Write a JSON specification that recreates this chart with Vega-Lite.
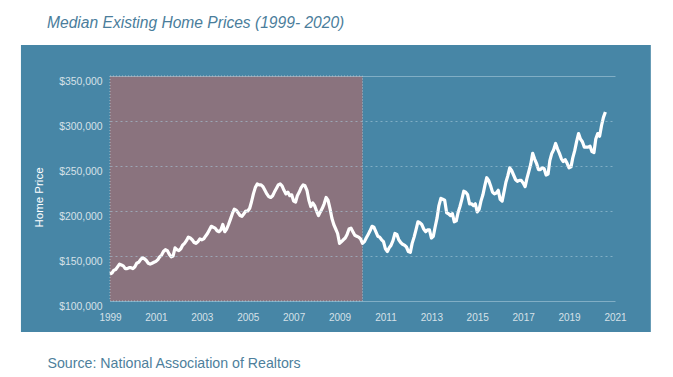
{
  "$schema": "https://vega.github.io/schema/vega-lite/v6.json",
  "width": 505,
  "height": 225,
  "autosize": {"type": "none"},
  "padding": {"left": 110, "top": 76, "right": 58, "bottom": 76},
  "background": "white",
  "title": {
    "text": "Median Existing Home Prices (1999- 2020)",
    "anchor": "start",
    "frame": "group",
    "dx": -63,
    "offset": 1,
    "baseline": "alphabetic",
    "font": "Liberation Sans",
    "fontSize": 15.6,
    "fontStyle": "italic",
    "fontWeight": "normal",
    "color": "#4a7d9b"
  },
  "config": {"view": {"stroke": null}},
  "datasets": {
    "prices": [
      {"d": "1999-01-01", "p": 130000}, {"d": "1999-02-01", "p": 131000}, {"d": "1999-03-01", "p": 134000}, {"d": "1999-04-01", "p": 135000}, {"d": "1999-05-01", "p": 138000}, {"d": "1999-06-01", "p": 141000}, {"d": "1999-07-01", "p": 140000}, {"d": "1999-08-01", "p": 139000}, {"d": "1999-09-01", "p": 136000}, {"d": "1999-10-01", "p": 136000}, {"d": "1999-11-01", "p": 137000}, {"d": "1999-12-01", "p": 137000},
      {"d": "2000-01-01", "p": 136000}, {"d": "2000-02-01", "p": 138000}, {"d": "2000-03-01", "p": 142000}, {"d": "2000-04-01", "p": 143000}, {"d": "2000-05-01", "p": 146000}, {"d": "2000-06-01", "p": 148000}, {"d": "2000-07-01", "p": 147000}, {"d": "2000-08-01", "p": 145000}, {"d": "2000-09-01", "p": 142000}, {"d": "2000-10-01", "p": 141000}, {"d": "2000-11-01", "p": 142000}, {"d": "2000-12-01", "p": 143000},
      {"d": "2001-01-01", "p": 144000}, {"d": "2001-02-01", "p": 146000}, {"d": "2001-03-01", "p": 149000}, {"d": "2001-04-01", "p": 151000}, {"d": "2001-05-01", "p": 155000}, {"d": "2001-06-01", "p": 157000}, {"d": "2001-07-01", "p": 156000}, {"d": "2001-08-01", "p": 152000}, {"d": "2001-09-01", "p": 149000}, {"d": "2001-10-01", "p": 150000}, {"d": "2001-11-01", "p": 159000}, {"d": "2001-12-01", "p": 157000},
      {"d": "2002-01-01", "p": 156000}, {"d": "2002-02-01", "p": 158000}, {"d": "2002-03-01", "p": 162000}, {"d": "2002-04-01", "p": 164000}, {"d": "2002-05-01", "p": 167000}, {"d": "2002-06-01", "p": 171000}, {"d": "2002-07-01", "p": 170000}, {"d": "2002-08-01", "p": 168000}, {"d": "2002-09-01", "p": 165000}, {"d": "2002-10-01", "p": 164000}, {"d": "2002-11-01", "p": 166000}, {"d": "2002-12-01", "p": 169000},
      {"d": "2003-01-01", "p": 168000}, {"d": "2003-02-01", "p": 169000}, {"d": "2003-03-01", "p": 172000}, {"d": "2003-04-01", "p": 175000}, {"d": "2003-05-01", "p": 179000}, {"d": "2003-06-01", "p": 183000}, {"d": "2003-07-01", "p": 182000}, {"d": "2003-08-01", "p": 181000}, {"d": "2003-09-01", "p": 178000}, {"d": "2003-10-01", "p": 177000}, {"d": "2003-11-01", "p": 179000}, {"d": "2003-12-01", "p": 185000},
      {"d": "2004-01-01", "p": 177000}, {"d": "2004-02-01", "p": 180000}, {"d": "2004-03-01", "p": 185000}, {"d": "2004-04-01", "p": 191000}, {"d": "2004-05-01", "p": 197000}, {"d": "2004-06-01", "p": 202000}, {"d": "2004-07-01", "p": 201000}, {"d": "2004-08-01", "p": 198000}, {"d": "2004-09-01", "p": 195000}, {"d": "2004-10-01", "p": 194000}, {"d": "2004-11-01", "p": 197000}, {"d": "2004-12-01", "p": 200000},
      {"d": "2005-01-01", "p": 200000}, {"d": "2005-02-01", "p": 203000}, {"d": "2005-03-01", "p": 210000}, {"d": "2005-04-01", "p": 219000}, {"d": "2005-05-01", "p": 226000}, {"d": "2005-06-01", "p": 230000}, {"d": "2005-07-01", "p": 229000}, {"d": "2005-08-01", "p": 229000}, {"d": "2005-09-01", "p": 227000}, {"d": "2005-10-01", "p": 223000}, {"d": "2005-11-01", "p": 219000}, {"d": "2005-12-01", "p": 216000},
      {"d": "2006-01-01", "p": 215000}, {"d": "2006-02-01", "p": 217000}, {"d": "2006-03-01", "p": 221000}, {"d": "2006-04-01", "p": 225000}, {"d": "2006-05-01", "p": 229000}, {"d": "2006-06-01", "p": 230000}, {"d": "2006-07-01", "p": 228000}, {"d": "2006-08-01", "p": 223000}, {"d": "2006-09-01", "p": 219000}, {"d": "2006-10-01", "p": 221000}, {"d": "2006-11-01", "p": 217000}, {"d": "2006-12-01", "p": 218000},
      {"d": "2007-01-01", "p": 211000}, {"d": "2007-02-01", "p": 210000}, {"d": "2007-03-01", "p": 217000}, {"d": "2007-04-01", "p": 221000}, {"d": "2007-05-01", "p": 226000}, {"d": "2007-06-01", "p": 229000}, {"d": "2007-07-01", "p": 228000}, {"d": "2007-08-01", "p": 223000}, {"d": "2007-09-01", "p": 212000}, {"d": "2007-10-01", "p": 205000}, {"d": "2007-11-01", "p": 209000}, {"d": "2007-12-01", "p": 206000},
      {"d": "2008-01-01", "p": 200000}, {"d": "2008-02-01", "p": 195000}, {"d": "2008-03-01", "p": 199000}, {"d": "2008-04-01", "p": 203000}, {"d": "2008-05-01", "p": 208000}, {"d": "2008-06-01", "p": 215000}, {"d": "2008-07-01", "p": 212000}, {"d": "2008-08-01", "p": 203000}, {"d": "2008-09-01", "p": 192000}, {"d": "2008-10-01", "p": 185000}, {"d": "2008-11-01", "p": 180000}, {"d": "2008-12-01", "p": 175000},
      {"d": "2009-01-01", "p": 164000}, {"d": "2009-02-01", "p": 166000}, {"d": "2009-03-01", "p": 168000}, {"d": "2009-04-01", "p": 170000}, {"d": "2009-05-01", "p": 174000}, {"d": "2009-06-01", "p": 180000}, {"d": "2009-07-01", "p": 181000}, {"d": "2009-08-01", "p": 177000}, {"d": "2009-09-01", "p": 173000}, {"d": "2009-10-01", "p": 172000}, {"d": "2009-11-01", "p": 171000}, {"d": "2009-12-01", "p": 169000},
      {"d": "2010-01-01", "p": 164000}, {"d": "2010-02-01", "p": 166000}, {"d": "2010-03-01", "p": 170000}, {"d": "2010-04-01", "p": 174000}, {"d": "2010-05-01", "p": 178000}, {"d": "2010-06-01", "p": 183000}, {"d": "2010-07-01", "p": 182000}, {"d": "2010-08-01", "p": 177000}, {"d": "2010-09-01", "p": 172000}, {"d": "2010-10-01", "p": 171000}, {"d": "2010-11-01", "p": 168000}, {"d": "2010-12-01", "p": 166000},
      {"d": "2011-01-01", "p": 158000}, {"d": "2011-02-01", "p": 155000}, {"d": "2011-03-01", "p": 159000}, {"d": "2011-04-01", "p": 162000}, {"d": "2011-05-01", "p": 167000}, {"d": "2011-06-01", "p": 175000}, {"d": "2011-07-01", "p": 174000}, {"d": "2011-08-01", "p": 168000}, {"d": "2011-09-01", "p": 165000}, {"d": "2011-10-01", "p": 163000}, {"d": "2011-11-01", "p": 162000}, {"d": "2011-12-01", "p": 160000},
      {"d": "2012-01-01", "p": 155000}, {"d": "2012-02-01", "p": 154000}, {"d": "2012-03-01", "p": 164000}, {"d": "2012-04-01", "p": 171000}, {"d": "2012-05-01", "p": 179000}, {"d": "2012-06-01", "p": 188000}, {"d": "2012-07-01", "p": 187000}, {"d": "2012-08-01", "p": 185000}, {"d": "2012-09-01", "p": 180000}, {"d": "2012-10-01", "p": 177000}, {"d": "2012-11-01", "p": 179000}, {"d": "2012-12-01", "p": 179000},
      {"d": "2013-01-01", "p": 170000}, {"d": "2013-02-01", "p": 172000}, {"d": "2013-03-01", "p": 182000}, {"d": "2013-04-01", "p": 192000}, {"d": "2013-05-01", "p": 206000}, {"d": "2013-06-01", "p": 214000}, {"d": "2013-07-01", "p": 213000}, {"d": "2013-08-01", "p": 212000}, {"d": "2013-09-01", "p": 198000}, {"d": "2013-10-01", "p": 197000}, {"d": "2013-11-01", "p": 195000}, {"d": "2013-12-01", "p": 197000},
      {"d": "2014-01-01", "p": 188000}, {"d": "2014-02-01", "p": 189000}, {"d": "2014-03-01", "p": 198000}, {"d": "2014-04-01", "p": 205000}, {"d": "2014-05-01", "p": 213000}, {"d": "2014-06-01", "p": 222000}, {"d": "2014-07-01", "p": 221000}, {"d": "2014-08-01", "p": 218000}, {"d": "2014-09-01", "p": 208000}, {"d": "2014-10-01", "p": 208000}, {"d": "2014-11-01", "p": 206000}, {"d": "2014-12-01", "p": 208000},
      {"d": "2015-01-01", "p": 199000}, {"d": "2015-02-01", "p": 202000}, {"d": "2015-03-01", "p": 211000}, {"d": "2015-04-01", "p": 218000}, {"d": "2015-05-01", "p": 228000}, {"d": "2015-06-01", "p": 237000}, {"d": "2015-07-01", "p": 234000}, {"d": "2015-08-01", "p": 228000}, {"d": "2015-09-01", "p": 221000}, {"d": "2015-10-01", "p": 219000}, {"d": "2015-11-01", "p": 220000}, {"d": "2015-12-01", "p": 223000},
      {"d": "2016-01-01", "p": 213000}, {"d": "2016-02-01", "p": 211000}, {"d": "2016-03-01", "p": 221000}, {"d": "2016-04-01", "p": 232000}, {"d": "2016-05-01", "p": 239000}, {"d": "2016-06-01", "p": 248000}, {"d": "2016-07-01", "p": 245000}, {"d": "2016-08-01", "p": 240000}, {"d": "2016-09-01", "p": 235000}, {"d": "2016-10-01", "p": 233000}, {"d": "2016-11-01", "p": 234000}, {"d": "2016-12-01", "p": 234000},
      {"d": "2017-01-01", "p": 231000}, {"d": "2017-02-01", "p": 227000}, {"d": "2017-03-01", "p": 236000}, {"d": "2017-04-01", "p": 244000}, {"d": "2017-05-01", "p": 252000}, {"d": "2017-06-01", "p": 264000}, {"d": "2017-07-01", "p": 258000}, {"d": "2017-08-01", "p": 253000}, {"d": "2017-09-01", "p": 246000}, {"d": "2017-10-01", "p": 246000}, {"d": "2017-11-01", "p": 248000}, {"d": "2017-12-01", "p": 247000},
      {"d": "2018-01-01", "p": 240000}, {"d": "2018-02-01", "p": 241000}, {"d": "2018-03-01", "p": 256000}, {"d": "2018-04-01", "p": 264000}, {"d": "2018-05-01", "p": 268000}, {"d": "2018-06-01", "p": 275000}, {"d": "2018-07-01", "p": 269000}, {"d": "2018-08-01", "p": 264000}, {"d": "2018-09-01", "p": 258000}, {"d": "2018-10-01", "p": 255000}, {"d": "2018-11-01", "p": 257000}, {"d": "2018-12-01", "p": 253000},
      {"d": "2019-01-01", "p": 248000}, {"d": "2019-02-01", "p": 249000}, {"d": "2019-03-01", "p": 259000}, {"d": "2019-04-01", "p": 267000}, {"d": "2019-05-01", "p": 277000}, {"d": "2019-06-01", "p": 286000}, {"d": "2019-07-01", "p": 280000}, {"d": "2019-08-01", "p": 277000}, {"d": "2019-09-01", "p": 271000}, {"d": "2019-10-01", "p": 271000}, {"d": "2019-11-01", "p": 271000}, {"d": "2019-12-01", "p": 272000},
      {"d": "2020-01-01", "p": 266000}, {"d": "2020-02-01", "p": 265000}, {"d": "2020-03-01", "p": 280000}, {"d": "2020-04-01", "p": 286000}, {"d": "2020-05-01", "p": 283000}, {"d": "2020-06-01", "p": 295000}, {"d": "2020-07-01", "p": 304000}, {"d": "2020-08-01", "p": 310000}
    ],
    "shade": [
      {"start": "1999-01-01", "end": "2010-01-01", "lo": 100000, "hi": 350000}
    ]
  },
  "layer": [
    {
      "data": {"values": [{}]},
      "mark": {"type": "rect", "fill": "#4786a6", "clip": false},
      "encoding": {
        "x": {"datum": {"year": 1995, "month": 2, "date": 14, "utc": true}, "type": "temporal", "scale": {"type": "utc"}},
        "x2": {"datum": {"year": 2022, "month": 7, "date": 25, "utc": true}},
        "y": {"datum": 384500, "type": "quantitative"},
        "y2": {"datum": 65500}
      }
    },
    {
      "data": {"name": "shade"},
      "mark": {"type": "rect", "fill": "#8a737e", "stroke": "#c9d5dc", "strokeDash": [1, 2], "strokeWidth": 1, "strokeOpacity": 0.7},
      "encoding": {
        "x": {"field": "start", "type": "temporal", "scale": {"type": "utc"}},
        "x2": {"field": "end"},
        "y": {"field": "lo", "type": "quantitative"},
        "y2": {"field": "hi"}
      }
    },
    {
      "data": {"name": "prices"},
      "mark": {"type": "line", "color": "white", "strokeWidth": 3.2, "strokeJoin": "round"},
      "encoding": {
        "x": {
          "field": "d",
          "type": "temporal",
          "scale": {"type": "utc", "domain": [{"year": 1999, "month": 1, "date": 1, "utc": true}, {"year": 2021, "month": 1, "date": 1, "utc": true}]},
          "axis": {
            "title": "Source: National Association of Realtors",
            "values": [
              {"year": 1999, "month": 1, "date": 1, "utc": true}, {"year": 2001, "month": 1, "date": 1, "utc": true},
              {"year": 2003, "month": 1, "date": 1, "utc": true}, {"year": 2005, "month": 1, "date": 1, "utc": true},
              {"year": 2007, "month": 1, "date": 1, "utc": true}, {"year": 2009, "month": 1, "date": 1, "utc": true},
              {"year": 2011, "month": 1, "date": 1, "utc": true}, {"year": 2013, "month": 1, "date": 1, "utc": true},
              {"year": 2015, "month": 1, "date": 1, "utc": true}, {"year": 2017, "month": 1, "date": 1, "utc": true},
              {"year": 2019, "month": 1, "date": 1, "utc": true}, {"year": 2021, "month": 1, "date": 1, "utc": true}
            ],
            "format": "%Y",
            "formatType": "utc",
            "labelFont": "Liberation Sans",
            "labelFontSize": 10,
            "labelColor": "#d6e1e8",
            "labelPadding": 11.5,
            "labelOverlap": false,
            "labelFlush": false,
            "ticks": false,
            "tickSize": 0,
            "domain": false,
            "grid": false,
            "zindex": 1,
            "titleX": -63,
            "titleY": 66,
            "titleAlign": "left",
            "titleAnchor": "start",
            "titleBaseline": "alphabetic",
            "titleFont": "Liberation Sans",
            "titleFontSize": 14.2,
            "titleFontWeight": "normal",
            "titleColor": "#4e7f9c"
          }
        },
        "y": {
          "field": "p",
          "type": "quantitative",
          "scale": {"domain": [100000, 350000], "nice": false, "zero": false},
          "axis": {
            "title": "Home Price",
            "values": [100000, 150000, 200000, 250000, 300000, 350000],
            "format": "$,d",
            "labelFont": "Liberation Sans",
            "labelFontSize": 10.4,
            "labelColor": "#d6e1e8",
            "labelPadding": 8,
            "labelOffset": 5,
            "labelBaseline": "middle",
            "labelOverlap": false,
            "ticks": false,
            "tickSize": 0,
            "domain": false,
            "grid": true,
            "gridColor": "#a9cadb",
            "gridOpacity": 0.6,
            "gridWidth": 1,
            "gridDash": {"condition": {"test": "datum.value === 100000 || datum.value === 350000", "value": []}, "value": [2, 3]},
            "zindex": 1,
            "titleFont": "Liberation Sans",
            "titleFontSize": 11.5,
            "titleFontWeight": "normal",
            "titleColor": "white",
            "titleX": -71,
            "titleY": 121,
            "titleAngle": -90,
            "titleAlign": "center",
            "titleBaseline": "middle"
          }
        }
      }
    }
  ]
}
